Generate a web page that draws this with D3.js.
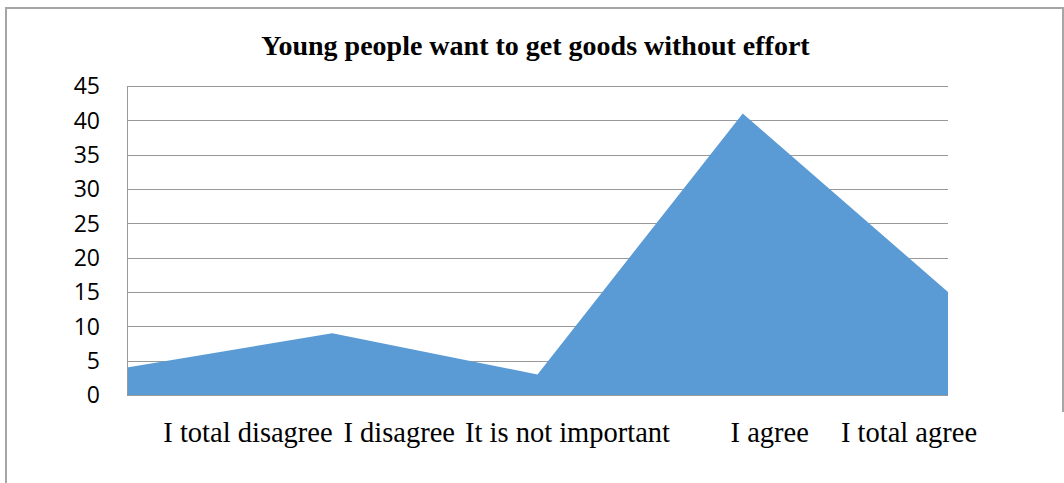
<!DOCTYPE html>
<html>
<head>
<meta charset="utf-8">
<script src="https://cdn.jsdelivr.net/npm/d3@7"></script>
<style>
  body { margin: 0; background: #fff; }
  svg { display: block; }
</style>
</head>
<body>
<svg class="area-chart"></svg>
<script>
var categories = ["I total disagree", "I disagree", "It is not important", "I agree", "I total agree"]
var values = [4, 9, 3, 41, 15]
var yTicks = [0, 5, 10, 15, 20, 25, 30, 35, 40, 45]
var chartTitle = "Young people want to get goods without effort"

// where each category label sits, relative to its point on the axis
var labelShift = [121, 67, 30, 27, -39]

var width = 1064
var height = 483
var margin = {top: 86, right: 116, bottom: 88, left: 127}
var chartWidth = width - margin.left - margin.right
var chartHeight = height - margin.top - margin.bottom

var svg = d3.select(".area-chart")
    .attr("width", width)
    .attr("height", height)

// outer frame (right and bottom edges are clipped in the original)
svg.append("path")
    .attr("d", "M6,483V8H1063V412")
    .attr("fill", "none")
    .attr("stroke", "#a6a6a6")
    .attr("stroke-width", 2)

svg.append("text")
    .attr("x", 535.5)
    .attr("y", 55)
    .attr("text-anchor", "middle")
    .attr("font-family", "'Liberation Serif', 'Times New Roman', serif")
    .attr("font-weight", "bold")
    .attr("font-size", 28)
    .text(chartTitle)

var x = d3.scalePoint().domain(categories).range([0, chartWidth]).padding(0)
var y = d3.scaleLinear().domain([0, 45]).range([chartHeight, 0])

var g = svg.append("g")
    .attr("transform", `translate(${margin.left},${margin.top})`)

g.append("g")
    .selectAll("line")
    .data(yTicks)
  .enter().append("line")
    .attr("x1", 0)
    .attr("x2", chartWidth)
    .attr("y1", function(d) { return Math.round(y(d)) + 0.5 })
    .attr("y2", function(d) { return Math.round(y(d)) + 0.5 })
    .attr("stroke", "#999")
    .attr("stroke-width", 1.2)

var area = d3.area()
    .x(function(d, i) { return x(categories[i]) })
    .y0(y(0))
    .y1(function(d) { return y(d) })

g.append("path")
    .datum(values)
    .attr("fill", "#5b9bd5")
    .attr("d", area)

// axis lines
g.append("line")
    .attr("x1", 0.5).attr("x2", 0.5)
    .attr("y1", 0).attr("y2", chartHeight)
    .attr("stroke", "#999")
g.append("line")
    .attr("x1", 0).attr("x2", chartWidth)
    .attr("y1", chartHeight + 0.5).attr("y2", chartHeight + 0.5)
    .attr("stroke", "#999")

g.append("g")
    .selectAll("text")
    .data(yTicks)
  .enter().append("text")
    .attr("x", -27)
    .attr("y", function(d) { return y(d) })
    .attr("dy", "0.36em")
    .attr("text-anchor", "end")
    .attr("font-family", "'Open Sans', sans-serif")
    .attr("font-size", 23)
    .attr("fill", "#000")
    .text(function(d) { return d })

g.append("g")
    .selectAll("text")
    .data(categories)
  .enter().append("text")
    .attr("x", function(d, i) { return x(d) + labelShift[i] })
    .attr("y", chartHeight + 47)
    .attr("text-anchor", "middle")
    .attr("font-family", "'Liberation Serif', 'Times New Roman', serif")
    .attr("font-size", 28.5)
    .attr("fill", "#000")
    .text(function(d) { return d })
</script>
</body>
</html>
